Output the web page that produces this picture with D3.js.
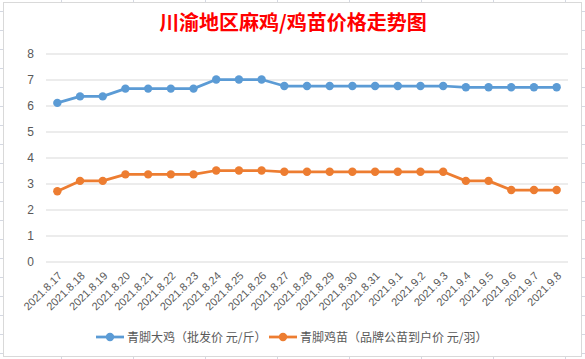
<!DOCTYPE html>
<html><head><meta charset="utf-8">
<script src="https://cdn.jsdelivr.net/npm/d3@7/dist/d3.min.js"></script>
<style>html,body{margin:0;padding:0;background:#fff;overflow:hidden}</style>
</head><body>
<svg id="c" width="585" height="359"></svg>
<script>
const categories = ["2021.8.17","2021.8.18","2021.8.19","2021.8.20","2021.8.21","2021.8.22","2021.8.23","2021.8.24","2021.8.25","2021.8.26","2021.8.27","2021.8.28","2021.8.29","2021.8.30","2021.8.31","2021.9.1","2021.9.2","2021.9.3","2021.9.4","2021.9.5","2021.9.6","2021.9.7","2021.9.8"];
const broiler = [6.1,6.35,6.35,6.65,6.65,6.65,6.65,7.0,7.0,7.0,6.75,6.75,6.75,6.75,6.75,6.75,6.75,6.75,6.7,6.7,6.7,6.7,6.7];
const chick = [2.7,3.1,3.1,3.35,3.35,3.35,3.35,3.5,3.5,3.5,3.45,3.45,3.45,3.45,3.45,3.45,3.45,3.45,3.1,3.1,2.75,2.75,2.75];
const yTicks = [0,1,2,3,4,5,6,7,8];
const seriesNames = ["青脚大鸡（批发价 元/斤）","青脚鸡苗（品牌公苗到户价 元/羽）"];
const title = "川渝地区麻鸡/鸡苗价格走势图";

const svg = d3.select("#c");
const W = 585, H = 359;
// spreadsheet grid behind
const sg = svg.append("g").attr("stroke","#d4d8e2").attr("stroke-width",1);
d3.range(11.5, H, 19).forEach(y => sg.append("line").attr("x1",0).attr("x2",W).attr("y1",y).attr("y2",y));
d3.range(61.5, W, 72).forEach(x => sg.append("line").attr("y1",0).attr("y2",H).attr("x1",x).attr("x2",x));
// chart area
svg.append("rect").attr("x",3.5).attr("y",2.5).attr("width",578).attr("height",354)
  .attr("fill","#fff").attr("stroke","#d9d9d9");

const font = "'Noto Sans CJK SC','Microsoft YaHei',sans-serif";
svg.append("text").attr("x",293).attr("y",30).attr("text-anchor","middle")
  .attr("font-family",font).attr("font-size",20).attr("font-weight","bold")
  .attr("fill","#ff0000").text(title);

const x = d3.scalePoint().domain(categories).range([46,568]).padding(0.5);
const y = d3.scaleLinear().domain([0,8]).range([261.5,53.5]);

// gridlines
const yAxis = d3.axisLeft(y).tickValues(yTicks).tickSize(-(568-46)).tickPadding(12);
const ga = svg.append("g").attr("transform","translate(46,0)").call(yAxis);
ga.select(".domain").remove();
ga.selectAll(".tick line").attr("stroke","#d9d9d9");
ga.selectAll(".tick text").attr("fill","#595959").attr("font-size",12).attr("font-family","'Liberation Sans',Arial,sans-serif");

// x labels
const xAxis = d3.axisBottom(x).tickSize(0);
const gx = svg.append("g").attr("transform","translate(0,261.5)").call(xAxis);
gx.select(".domain").remove();
gx.selectAll(".tick text").attr("fill","#595959").attr("font-size",11)
  .attr("font-family","'Liberation Sans',Arial,sans-serif")
  .attr("text-anchor","end").attr("dy",0).attr("y",0)
  .attr("transform","translate(5,15) rotate(-45)");

const colors = ["#5b9bd5","#ed7d31"];
[broiler, chick].forEach((data,i) => {
  const line = d3.line().x((d,j)=>x(categories[j])).y(d=>y(d));
  svg.append("path").datum(data).attr("d",line).attr("fill","none")
    .attr("stroke",colors[i]).attr("stroke-width",2.75).attr("stroke-linejoin","round");
  svg.append("g").selectAll("circle").data(data).join("circle")
    .attr("cx",(d,j)=>x(categories[j])).attr("cy",d=>y(d)).attr("r",4.2).attr("fill",colors[i]);
});

// legend
const legX = [96, 269];
seriesNames.forEach((n,i) => {
  const g = svg.append("g").attr("transform",`translate(${legX[i]},337)`);
  g.append("line").attr("x1",0).attr("x2",28).attr("stroke",colors[i]).attr("stroke-width",2.75);
  g.append("circle").attr("cx",14).attr("r",4.2).attr("fill",colors[i]);
  g.append("text").attr("x",31).attr("y",4.5).attr("font-family",font).attr("font-size",12)
    .attr("fill","#595959").text(n);
});
</script>
</body></html>
